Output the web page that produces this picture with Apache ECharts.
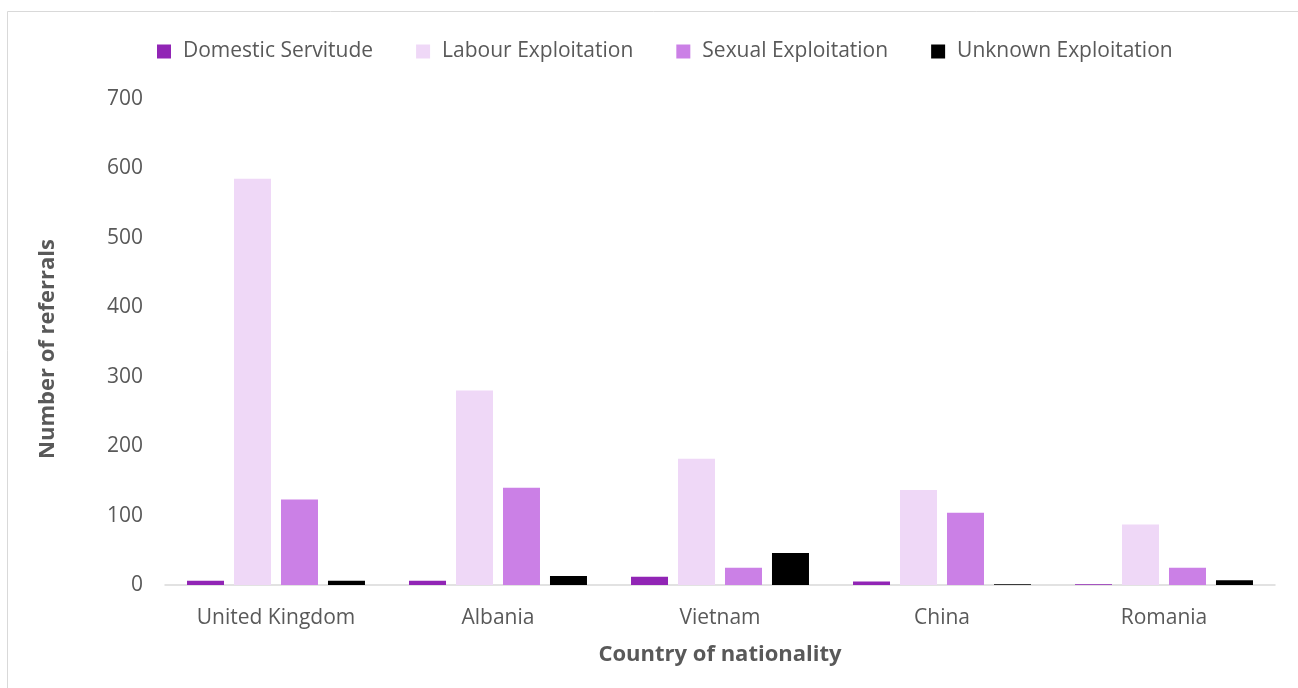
<!DOCTYPE html>
<html>
<head>
<meta charset="utf-8">
<script src="https://cdn.jsdelivr.net/npm/echarts@6/dist/echarts.min.js"></script>
<style>
  html, body { margin: 0; padding: 0; background: #fff; }
  #chart { width: 1298px; height: 688px; }
</style>
</head>
<body>
<div id="chart"></div>
<script>
// Referrals by country of nationality and exploitation type
const countries = ['United Kingdom', 'Albania', 'Vietnam', 'China', 'Romania'];
const domesticServitude = [6, 6, 12, 5, 1];
const labourExploitation = [585, 280, 182, 137, 87];
const sexualExploitation = [123, 140, 25, 104, 25];
const unknownExploitation = [6, 13, 46, 1, 7];
const yTicks = [0, 100, 200, 300, 400, 500, 600, 700];

const seriesDefs = [
  { name: 'Domestic Servitude', data: domesticServitude, color: '#9125b5' },
  { name: 'Labour Exploitation', data: labourExploitation, color: '#efd8f7' },
  { name: 'Sexual Exploitation', data: sexualExploitation, color: '#cb80e6' },
  { name: 'Unknown Exploitation', data: unknownExploitation, color: '#000000' }
];

const font = '"Open Sans", "Noto Sans", sans-serif';
const chart = echarts.init(document.getElementById('chart'), null, { renderer: 'canvas' });

chart.setOption({
  animation: false,
  backgroundColor: '#ffffff',
  textStyle: { fontFamily: font },
  graphic: [{
    type: 'rect',
    shape: { x: 7.5, y: 11.5, width: 1300, height: 700 },
    style: { fill: 'none', stroke: '#d9d9d9', lineWidth: 1 },
    silent: true
  }],
  legend: {
    top: 36,
    left: 152,
    itemWidth: 14,
    itemHeight: 14,
    itemGap: 43,
    icon: 'rect',
    textStyle: { color: '#595959', fontSize: 21, fontFamily: font, padding: [0, 0, 0, 7] },
    data: seriesDefs.map(s => s.name)
  },
  grid: { left: 165, right: 23, top: 99, bottom: 103 },
  xAxis: {
    type: 'category',
    data: countries,
    name: 'Country of nationality',
    nameLocation: 'middle',
    nameGap: 59,
    nameTextStyle: { color: '#595959', fontSize: 22, fontWeight: 'bold', fontFamily: font },
    axisLine: { lineStyle: { color: '#d9d9d9', width: 1.5 } },
    axisTick: { show: false },
    axisLabel: { color: '#595959', fontSize: 21, margin: 23, fontFamily: font }
  },
  yAxis: {
    type: 'value',
    min: yTicks[0],
    max: yTicks[yTicks.length - 1],
    interval: 100,
    name: 'Number of referrals',
    nameLocation: 'middle',
    nameGap: 106,
    nameRotate: 90,
    nameTextStyle: { color: '#595959', fontSize: 22, fontWeight: 'bold', fontFamily: font, padding: [0, 14, 0, 0] },
    axisLine: { show: false },
    axisTick: { show: false },
    splitLine: { show: false },
    axisLabel: { color: '#595959', fontSize: 21, margin: 22, fontFamily: font }
  },
  series: seriesDefs.map(s => ({
    name: s.name,
    type: 'bar',
    data: s.data,
    barWidth: 37,
    barGap: '27%',
    itemStyle: { color: s.color }
  }))
});
</script>
</body>
</html>
